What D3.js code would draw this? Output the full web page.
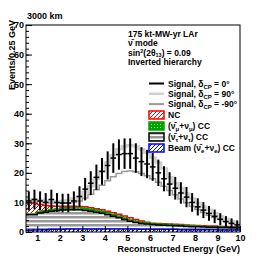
<!doctype html>
<html>
<head>
<style>
  body { margin: 0; background: #fff; }
  text { font-family: "Liberation Sans", Arial, sans-serif; font-weight: bold; }
</style>
<script src="https://d3js.org/d3.v7.min.js"></script>
</head>
<body>
<svg width="266" height="258"></svg>
<script>
// energy binning (GeV)
var eMin = 0.5, eMax = 10, binWidth = 0.25;

// background components, events per bin (stacked bottom to top)
var beamNue = [0.6,0.7,0.8,0.8,0.9,0.9,0.9,1.0,1.0,1.0,1.0,1.0,1.0,1.0,1.0,1.0,1.0,1.0,1.0,1.0,
               0.9,0.9,0.9,0.9,0.9,0.9,0.9,0.8,0.8,0.8,0.8,0.8,0.8,0.8,0.7,0.7,0.7,0.7];
var nutauCC = [5.2,5.1,5.6,5.9,6.1,6.3,6.5,6.5,6.5,6.5,6.3,6.0,5.7,5.3,4.8,4.3,3.8,3.2,2.6,2.2,
               2.0,1.8,1.6,1.5,1.4,1.3,1.2,1.2,1.1,1.0,1.0,0.9,0.8,0.8,0.8,0.8,0.7,0.7];
var numuCC  = [0.3,0.3,0.4,0.5,0.6,0.6,0.7,0.7,0.7,0.7,0.7,0.7,0.7,0.7,0.7,0.6,0.6,0.5,0.5,0.4,
               0.4,0.4,0.3,0.3,0.3,0.3,0.3,0.3,0.3,0.3,0.2,0.2,0.2,0.2,0.2,0.2,0.2,0.2];
var ncBkg   = [3.9,3.7,2.5,1.8,1.2,0.9,0.6,0.5,0.5,0.4,0.5,0.5,0.5,0.5,0.5,0.6,0.6,0.7,0.7,0.6,
               0.4,0.2,0.2,0.2,0.2,0.2,0.2,0.2,0.2,0.2,0.2,0.2,0.2,0.2,0.2,0.2,0.2,0.2];

// signal + background totals for each delta_CP
var sig0Total   = [10.5,11.0,10.5,10.0,11.0,10.0,9.8,9.8,10.5,12.0,14.5,16.5,18.5,20.5,22.5,25.0,26.2,26.5,26.5,25.0,
                   23.8,23.0,22.0,20.0,18.0,16.2,14.8,13.2,11.8,10.0,8.5,7.4,6.3,5.3,4.3,3.5,2.9,2.4];
var sig90Total  = [11.0,11.0,10.8,10.6,10.5,10.5,10.5,10.8,11.3,12.0,13.5,15.5,18.0,20.5,23.5,26.0,28.0,29.0,29.3,29.0,
                   28.0,26.8,25.2,23.5,21.5,18.5,16.5,14.8,13.0,11.3,9.8,8.5,7.5,6.3,5.3,4.4,3.6,3.0];
var sigM90Total = [10.5,10.5,10.3,10.0,9.8,9.8,9.8,9.8,10.0,10.5,11.5,12.8,14.3,15.8,17.3,18.7,19.8,20.5,20.6,20.4,
                   19.8,19.0,18.0,16.8,15.5,14.0,12.6,11.2,9.9,8.7,7.6,6.6,5.7,4.9,4.2,3.6,3.1,2.6];

var xTicks = [1,2,3,4,5,6,7,8,9,10];
var yTicks = [0,10,20,30,40,50,60,70];

var svg = d3.select("svg");
var x = d3.scaleLinear().domain([eMin, eMax]).range([26, 240]);
var y = d3.scaleLinear().domain([0, 70]).range([232, 25]);

// patterns
var defs = svg.append("defs");
function hatch(id, color) {
  var p = defs.append("pattern").attr("id", id).attr("patternUnits", "userSpaceOnUse")
    .attr("width", 4).attr("height", 4);
  p.append("path").attr("d", "M-1,1 l2,-2 M0,4 l4,-4 M3,5 l2,-2")
    .attr("stroke", color).attr("stroke-width", 1);
}
hatch("hatchRed", "#ff0000");
hatch("hatchBlue", "#0000ff");
var pg = defs.append("pattern").attr("id", "dotGreen").attr("patternUnits", "userSpaceOnUse")
  .attr("width", 3).attr("height", 3);
pg.append("rect").attr("width", 3).attr("height", 3).attr("fill", "#00a300");
pg.append("rect").attr("x", 1).attr("y", 1).attr("width", 1).attr("height", 1).attr("fill", "#9fdc9f");
var pl = defs.append("pattern").attr("id", "grayLines").attr("patternUnits", "userSpaceOnUse")
  .attr("width", 4).attr("height", 4);
pl.append("rect").attr("width", 4).attr("height", 4).attr("fill", "#ffffff");
pl.append("rect").attr("width", 4).attr("height", 2.5).attr("fill", "#999999");

// step helpers
function steps(vals) {
  var pts = [];
  vals.forEach(function (v, i) {
    var lo = eMin + i * binWidth;
    pts.push([lo, v], [lo + binWidth, v]);
  });
  return pts;
}
function cumulate(a, b) { return a.map(function (v, i) { return v + b[i]; }); }

var zero = beamNue.map(function () { return 0; });
var top1 = beamNue.slice();
var top2 = cumulate(top1, nutauCC);
var top3 = cumulate(top2, numuCC);
var top4 = cumulate(top3, ncBkg);

var area = d3.area().x(function (d) { return x(d[0]); })
  .y0(function (d) { return y(d[2]); }).y1(function (d) { return y(d[1]); });
var line = d3.line().x(function (d) { return x(d[0]); }).y(function (d) { return y(d[1]); });

function band(lower, upper, fill, stroke, sw) {
  var lp = steps(lower), up = steps(upper);
  var pts = up.map(function (p, i) { return [p[0], p[1], lp[i][1]]; });
  svg.append("path").attr("d", area(pts)).attr("fill", fill);
  svg.append("path").attr("d", line(up)).attr("fill", "none")
    .attr("stroke", stroke).attr("stroke-width", sw);
}
band(top3, top4, "url(#hatchRed)", "#ff0000", 1.5);
band(top2, top3, "url(#dotGreen)", "#00a300", 1.5);
band(top1, top2, "url(#grayLines)", "#000000", 1.5);
band(zero, top1, "url(#hatchBlue)", "#0000ff", 1.5);

// signal histograms
svg.append("path").attr("d", line(steps(sigM90Total))).attr("fill", "none")
  .attr("stroke", "#999999").attr("stroke-width", 1.5);
svg.append("path").attr("d", line(steps(sig90Total))).attr("fill", "none")
  .attr("stroke", "#cfcfcf").attr("stroke-width", 2.5);

// delta_CP = 0 as points with sqrt(N) errors
var pts = svg.append("g");
sig0Total.forEach(function (v, i) {
  var lo = eMin + i * binWidth, c = lo + binWidth / 2, err = Math.sqrt(v);
  pts.append("line").attr("x1", x(c)).attr("x2", x(c))
    .attr("y1", y(v - err)).attr("y2", y(v + err))
    .attr("stroke", "#000").attr("stroke-width", 2);
  pts.append("line").attr("x1", x(lo)).attr("x2", x(lo + binWidth))
    .attr("y1", y(v)).attr("y2", y(v))
    .attr("stroke", "#000").attr("stroke-width", 1.5);
});

// frame and axes
svg.append("rect").attr("x", 26).attr("y", 25).attr("width", 214).attr("height", 207)
  .attr("fill", "none").attr("stroke", "#000").attr("stroke-width", 1);

var minorY = d3.range(0, 71, 2);
var minorX = d3.range(0.6, 10.01, 0.2);
svg.append("g").attr("transform", "translate(26,0)")
  .call(d3.axisLeft(y).tickValues(minorY).tickSize(-3).tickFormat(""))
  .call(function (g) { g.select(".domain").remove(); });
svg.append("g").attr("transform", "translate(26,0)")
  .call(d3.axisLeft(y).tickValues(yTicks).tickSize(-6).tickPadding(2))
  .call(function (g) { g.select(".domain").remove(); });
svg.append("g").attr("transform", "translate(0,232)")
  .call(d3.axisBottom(x).tickValues(minorX).tickSize(-3).tickFormat(""))
  .call(function (g) { g.select(".domain").remove(); });
svg.append("g").attr("transform", "translate(0,232)")
  .call(d3.axisBottom(x).tickValues(xTicks).tickSize(-6).tickPadding(3))
  .call(function (g) { g.select(".domain").remove(); });
svg.selectAll(".tick text").style("font-size", "9px").attr("fill", "#000");

// titles
svg.append("text").attr("x", 27).attr("y", 19).style("font-size", "9px").text("3000 km");
svg.append("text").attr("transform", "translate(15,20) rotate(-90)")
  .attr("text-anchor", "end").style("font-size", "9px").text("Events/0.25 GeV");
svg.append("text").attr("x", 240).attr("y", 252).attr("text-anchor", "end")
  .style("font-size", "9px").text("Reconstructed Energy (GeV)");

// info block
var info = svg.append("g").style("font-size", "8.5px");
info.append("text").attr("x", 128).attr("y", 37).text("175 kt-MW-yr LAr");
info.append("text").attr("x", 128).attr("y", 46).text("\u03bd\u0304 mode");
var s = info.append("text").attr("x", 128).attr("y", 55.5);
s.append("tspan").text("sin");
s.append("tspan").attr("dy", -3).style("font-size", "5.5px").text("2");
s.append("tspan").attr("dy", 3).text("(2\u03b8");
s.append("tspan").attr("dy", 1.5).style("font-size", "5.5px").text("13");
s.append("tspan").attr("dy", -1.5).text(") = 0.09");
info.append("text").attr("x", 128).attr("y", 65).text("Inverted hierarchy");

// legend
var leg = svg.append("g").style("font-size", "8.5px");
function label(yy, parts) {
  var t = leg.append("text").attr("x", 168).attr("y", yy + 3);
  parts.forEach(function (p) {
    t.append("tspan").attr("dy", p[1] || null).style("font-size", p[2] || null).text(p[0]);
  });
}
[["#000000", 2, "0\u00b0"], ["#cfcfcf", 2.5, "90\u00b0"], ["#999999", 2, "-90\u00b0"]].forEach(function (d, i) {
  var yy = 83.5 + i * 10.3;
  leg.append("line").attr("x1", 149).attr("x2", 164).attr("y1", yy).attr("y2", yy)
    .attr("stroke", d[0]).attr("stroke-width", d[1]);
  label(yy, [["Signal, \u03b4"], ["CP", 2, "6px"], [" = " + d[2], -2]]);
});
var boxes = [
  ["url(#hatchRed)", "#ff0000", [["NC"]]],
  ["url(#dotGreen)", "#00a300", [["(\u03bd\u0304"], ["\u03bc", 2, "6px"], ["+\u03bd", -2], ["\u03bc", 2, "6px"], [") CC", -2]]],
  ["url(#grayLines)", "#000000", [["(\u03bd\u0304"], ["\u03c4", 2, "6px"], ["+\u03bd", -2], ["\u03c4", 2, "6px"], [") CC", -2]]],
  ["url(#hatchBlue)", "#0000ff", [["Beam (\u03bd\u0304"], ["e", 2, "6px"], ["+\u03bd", -2], ["e", 2, "6px"], [") CC", -2]]]
];
boxes.forEach(function (d, i) {
  var yy = 115 + i * 11;
  leg.append("rect").attr("x", 149).attr("y", yy - 4).attr("width", 15).attr("height", 8)
    .attr("fill", d[0]).attr("stroke", d[1]).attr("stroke-width", 1.5);
  label(yy, d[2]);
});
</script>
</body>
</html>
